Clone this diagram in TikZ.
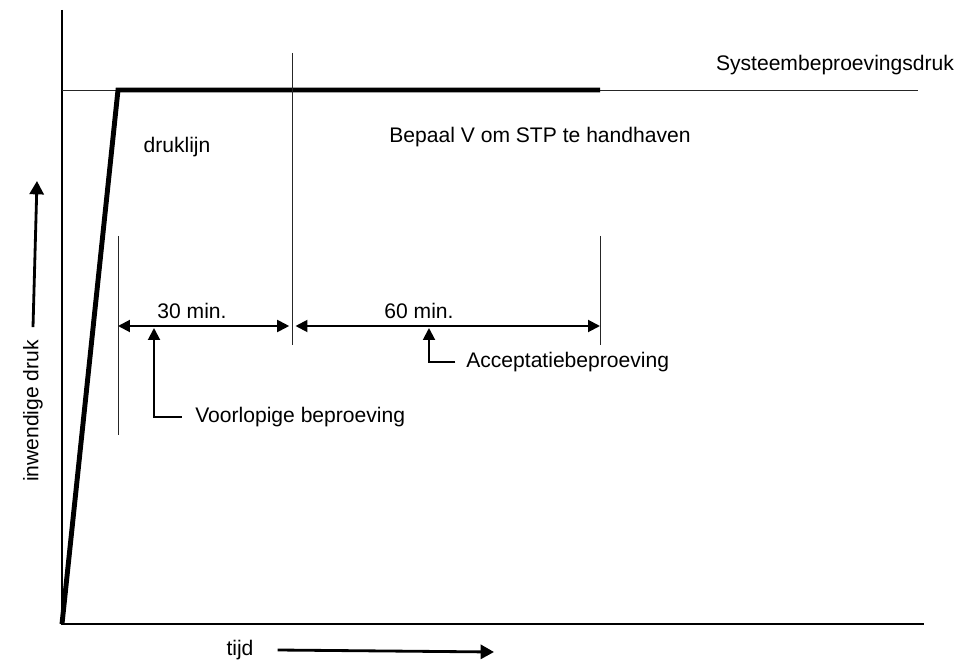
\documentclass[tikz,border=0pt]{standalone}
\usepackage{fontspec}
\setmainfont{Liberation Sans}
\usetikzlibrary{arrows.meta}

\tikzset{
  lijnDun/.style={line width=0.65pt, black!85},
  lijnAs/.style={line width=2pt},
  lijnDruk/.style={line width=3.5pt, line join=miter},
  pijl/.style={line width=1.4pt, -{Triangle[length=8.5pt,width=8.5pt]}},
  pijlAs/.style={line width=2pt, -{Triangle[length=9.5pt,width=10pt]}},
  maat/.style={line width=1.4pt, {Triangle[length=8.5pt,width=8.5pt]}-{Triangle[length=8.5pt,width=8.5pt]}},
}

\begin{document}
\begin{tikzpicture}[x=0.25mm, y=-0.25mm, every node/.style={font=\fontsize{15}{17}\selectfont, inner sep=0pt}]
    \useasboundingbox (0,0) rectangle (962,663);

    % assen
    \coordinate (AsO) at (62,624);
    \coordinate (AsTop) at (62,10);
    \coordinate (AsEind) at (924,624);
    \draw [lijnAs] (AsTop) -- (AsO) -- (AsEind);

    % systeembeproevingsdruk
    \coordinate (StpBegin) at (62,90);
    \coordinate (StpEind) at (918,90);
    \draw [lijnDun] (StpBegin) to (StpEind);
    \node (StpTxt) at (835,65) {Systeembeproevingsdruk};

    % druklijn
    \coordinate (DrTop) at (118,90);
    \coordinate (DrEind) at (600,90);
    \draw [lijnDruk] (AsO) -- (DrTop) -- (DrEind);
    \node (DrTxt) at (177,147) {druklijn};
    \node (BepTxt) at (540,137) {Bepaal V om STP te handhaven};

    % tijdstippen
    \coordinate (T0a) at (118,236);
    \coordinate (T0b) at (118,435);
    \coordinate (T1a) at (292,53);
    \coordinate (T1b) at (292,345);
    \coordinate (T2a) at (600,236);
    \coordinate (T2b) at (600,345);
    \draw [lijnDun] (T0a) to (T0b);
    \draw [lijnDun] (T1a) to (T1b);
    \draw [lijnDun] (T2a) to (T2b);

    \coordinate (M0) at (118,326);
    \coordinate (M1) at (292,326);
    \coordinate (M2) at (600,326);
    \draw [maat, shorten >=2pt] (M0) to (M1);
    \draw [maat, shorten <=2.5pt] (M1) to (M2);
    \node (Min30) at (192,311) {30 min.};
    \node (Min60) at (419,311) {60 min.};

    % beproevingen
    \node [anchor=west] (VoorTxt) at (195,417) {Voorlopige beproeving};
    \coordinate (VoorTip) at (154,328);
    \draw [pijl] ([xshift=-9.5pt]VoorTxt.west) -| (VoorTip);

    \node [anchor=west] (AccTxt) at (466,362) {Acceptatiebeproeving};
    \coordinate (AccTip) at (429,328);
    \draw [pijl] ([xshift=-7.5pt]AccTxt.west) -| (AccTip);

    % aslabels
    \node [rotate=90] (InwTxt) at (33,411) {inwendige druk};
    \coordinate (InwTip) at (37,181);
    \draw [pijlAs] ([yshift=9pt]InwTxt.east) -- (InwTip);

    \node (TijdTxt) at (240,650) {tijd};
    \coordinate (TijdTip) at (494,652);
    \draw [pijlAs] ([xshift=17pt]TijdTxt.east) -- (TijdTip);
\end{tikzpicture}
\end{document}
